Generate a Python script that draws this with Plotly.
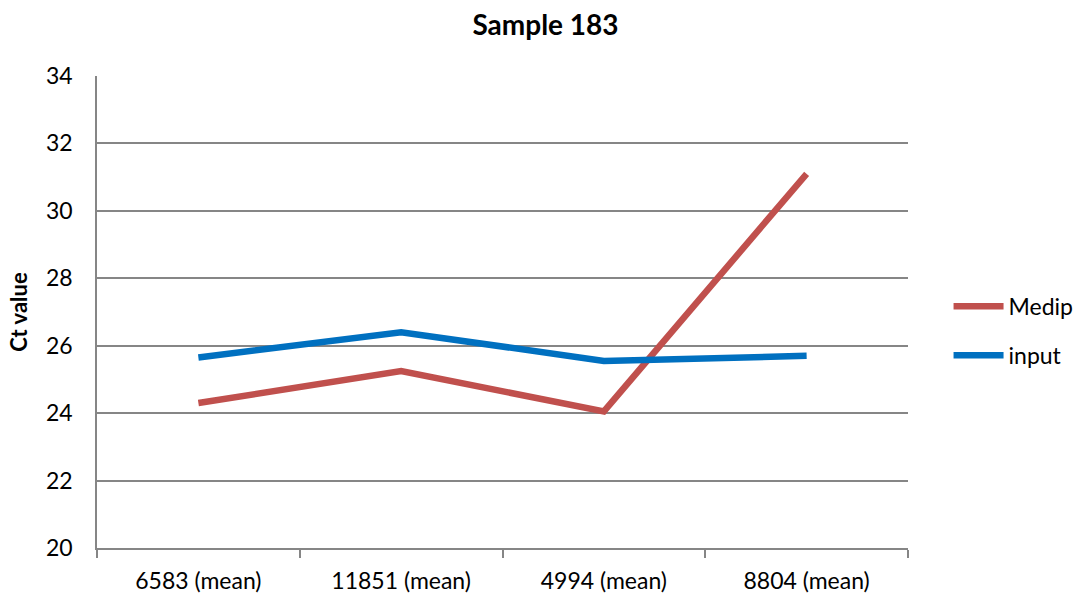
import plotly.graph_objects as go

categories = ["6583 (mean)", "11851 (mean)", "4994 (mean)", "8804 (mean)"]
medip = [24.3, 25.25, 24.05, 31.1]
input_ct = [25.65, 26.4, 25.55, 25.7]
y_ticks = [20, 22, 24, 26, 28, 30, 32, 34]

FONT = "Lato, Open Sans, sans-serif"
AXIS_GREY = "#868686"

fig = go.Figure()
fig.add_trace(go.Scatter(
    x=categories, y=medip, name="Medip", mode="lines", legendgroup="a",
    line=dict(color="#C0504D", width=6.5),
))
fig.add_trace(go.Scatter(
    x=categories, y=input_ct, name="input", mode="lines", legendgroup="b",
    line=dict(color="#0070C0", width=6.5),
))

fig.update_layout(
    width=1091, height=596,
    margin=dict(l=97, r=181, t=76, b=48),
    plot_bgcolor="white", paper_bgcolor="white",
    font=dict(family=FONT, size=23, color="#000000"),
    title=dict(text="<b>Sample 183</b>", x=0.5, xanchor="center",
               y=0.958, yanchor="middle", font=dict(size=28, family=FONT)),
    legend=dict(x=1.05, xanchor="left", y=0.46, yanchor="middle",
                font=dict(size=23, family=FONT), tracegroupgap=16,
                traceorder="grouped", itemwidth=50,
                bgcolor="rgba(0,0,0,0)"),
    showlegend=True,
)

fig.update_xaxes(
    type="category", tickson="boundaries", showgrid=False,
    showline=True, linecolor=AXIS_GREY, linewidth=1.5,
    ticks="outside", ticklen=8, tickcolor=AXIS_GREY, tickwidth=1.5,
    tickfont=dict(size=23, family=FONT), ticklabelstandoff=12,
    range=[-0.5, 3.5], fixedrange=True, automargin=False,
)
fig.update_yaxes(
    range=[20, 34], tickvals=y_ticks, showgrid=True, gridcolor=AXIS_GREY,
    gridwidth=1.5, showline=True, linecolor=AXIS_GREY, linewidth=1.5,
    zeroline=False, ticks="", tickfont=dict(size=23, family=FONT),
    ticklabelstandoff=18, automargin=False,
    title=dict(text="<b>Ct value</b>", font=dict(size=22, family=FONT), standoff=12),
)

fig.write_html("out.html")
